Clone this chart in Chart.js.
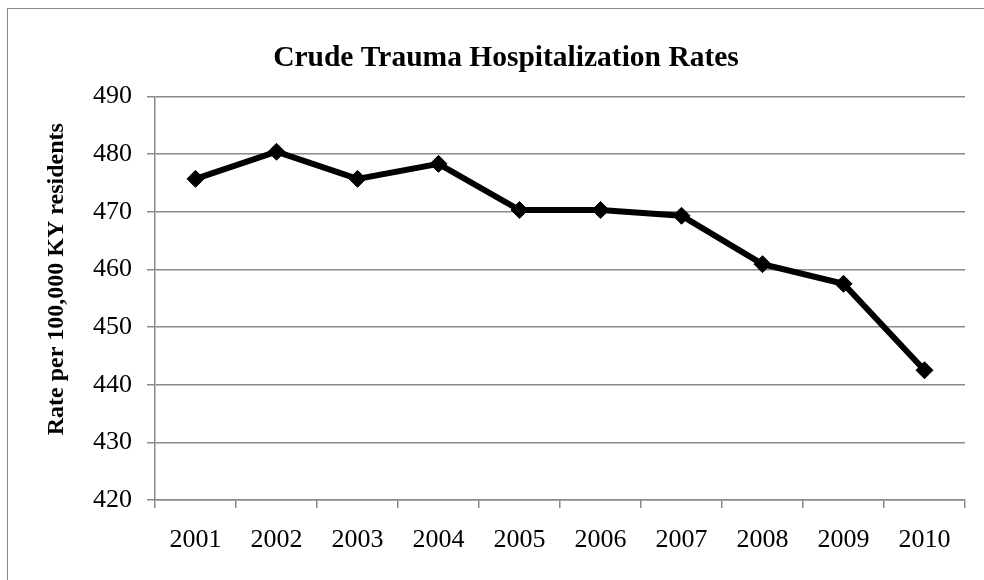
<!DOCTYPE html>
<html>
<head>
<meta charset="utf-8">
<script src="https://cdn.jsdelivr.net/npm/chart.js@4"></script>
<style>
  html, body { margin: 0; padding: 0; background: #fff; overflow: hidden; width: 984px; height: 580px; }
  #frame { position: absolute; left: 7px; top: 8px; width: 996px; height: 600px; border: 1px solid #8a8a8a; }
  canvas { display: block; }
</style>
</head>
<body>
<div id="frame"><canvas id="rates" width="996" height="600"></canvas></div>
<script>
// data
const years = ['2001', '2002', '2003', '2004', '2005', '2006', '2007', '2008', '2009', '2010'];
const rates = [475.7, 480.4, 475.7, 478.3, 470.3, 470.3, 469.3, 460.9, 457.5, 442.5];
const yTicks = [420, 430, 440, 450, 460, 470, 480, 490];
const yTitle = 'Rate per 100,000 KY residents';

const serif = '"Liberation Serif", "Times New Roman", serif';
const gridGray = '#8a8a8a';

// Excel puts the axis title a bit above the middle of the plot, so draw it by hand
const yTitlePlugin = {
    id: 'yTitle',
    afterDraw(chart) {
        const ctx = chart.ctx;
        const area = chart.chartArea;
        ctx.save();
        ctx.translate(49, (area.top + area.bottom) / 2 - 19);
        ctx.rotate(-Math.PI / 2);
        ctx.font = 'bold 24px ' + serif;
        ctx.fillStyle = '#000';
        ctx.textAlign = 'center';
        ctx.textBaseline = 'middle';
        ctx.fillText(yTitle, 0, 0);
        ctx.restore();
    }
};

new Chart(document.getElementById('rates'), {
    type: 'line',
    data: {
        labels: years,
        datasets: [{
            data: rates,
            borderColor: '#000',
            borderWidth: 6,
            pointStyle: 'rectRot',
            pointRadius: 8.5,
            pointBackgroundColor: '#000',
            pointBorderColor: '#000',
            pointBorderWidth: 1,
            tension: 0
        }]
    },
    options: {
        responsive: false,
        animation: false,
        layout: { padding: 0 },
        plugins: {
            legend: { display: false },
            tooltip: { enabled: false },
            title: {
                display: true,
                text: 'Crude Trauma Hospitalization Rates',
                color: '#000',
                font: { family: serif, size: 29.5, weight: 'bold' },
                padding: { top: 32, bottom: 20 }
            }
        },
        scales: {
            x: {
                offset: true,
                grid: { offset: true, drawOnChartArea: false, drawTicks: true, tickLength: 8, color: gridGray, lineWidth: 1.5 },
                border: { color: gridGray, width: 1.5 },
                ticks: { color: '#000', font: { family: serif, size: 26 }, padding: 17, maxRotation: 0 },
                afterFit: s => { s.height = 109; }
            },
            y: {
                min: 420,
                max: 490,
                afterBuildTicks: s => { s.ticks = yTicks.map(v => ({ value: v })); },
                grid: { color: gridGray, lineWidth: 1.5, tickLength: 8 },
                border: { color: gridGray, width: 1.5 },
                ticks: { color: '#000', font: { family: serif, size: 26 }, padding: 15 },
                afterFit: s => { s.width = 147; }
            },
            // empty right-hand strip so the title stays centred on the whole frame
            spacer: {
                type: 'linear',
                position: 'right',
                grid: { display: false },
                border: { display: false },
                ticks: { display: false },
                afterFit: s => { s.width = 39; }
            }
        }
    },
    plugins: [yTitlePlugin]
});
</script>
</body>
</html>
